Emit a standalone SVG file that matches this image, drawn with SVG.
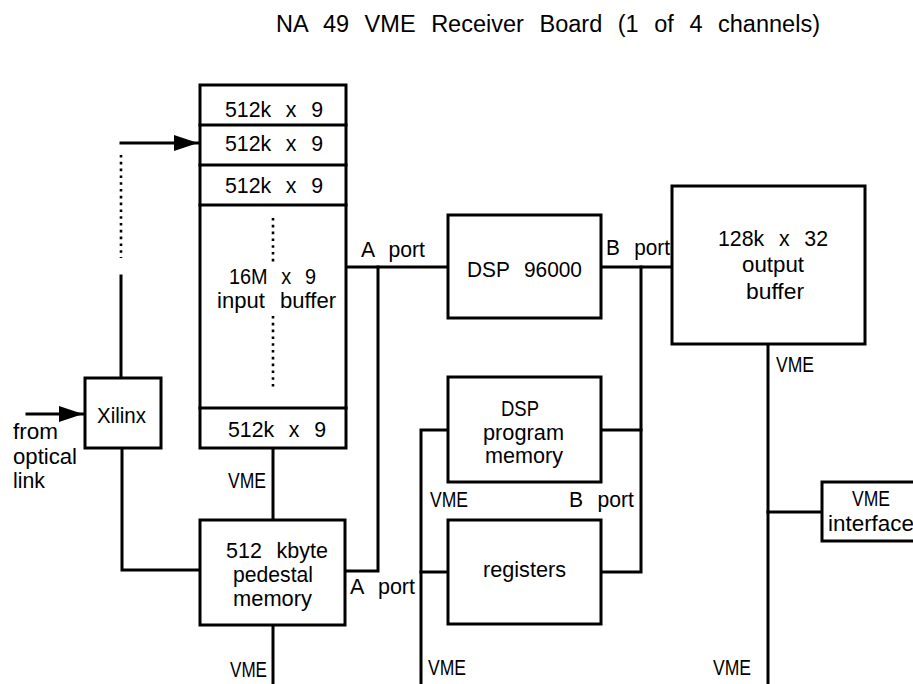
<svg xmlns="http://www.w3.org/2000/svg" width="913" height="684" viewBox="0 0 913 684">
<defs>
<style>
.box{fill:#fff;stroke:#000;stroke-width:3}
.ln{fill:none;stroke:#000;stroke-width:3;stroke-linejoin:miter;stroke-linecap:square}
.dot{fill:none;stroke:#000;stroke-width:2.6;stroke-dasharray:2.6 4.2}
text{font-family:"Liberation Sans",Arial,sans-serif;font-size:22px;fill:#000;word-spacing:9px}
.title{font-size:23.5px}
</style>
<marker id="ah" markerUnits="userSpaceOnUse" markerWidth="26" markerHeight="18" refX="24" refY="8" orient="auto">
<path d="M0,0 L24,8 L0,16 z" fill="#000"/>
</marker>
</defs>
<rect width="913" height="684" fill="#fff"/>

<text class="title" x="276" y="32" textLength="544" lengthAdjust="spacingAndGlyphs">NA 49 VME Receiver Board (1 of 4 channels)</text>

<g id="connectors">
<line class="dot" x1="121" y1="155" x2="121" y2="258"/>
<polyline class="ln" points="121,143 198,143" marker-end="url(#ah)"/>
<line class="ln" x1="121" y1="276" x2="121" y2="378"/>
<polyline class="ln" points="27,414 83,414" marker-end="url(#ah)"/>
<polyline class="ln" points="122,448 122,570 200,570"/>
<line class="ln" x1="273" y1="448" x2="273" y2="520"/>
<line class="ln" x1="273" y1="625" x2="273" y2="686"/>
<line class="ln" x1="346" y1="267" x2="448" y2="267"/>
<polyline class="ln" points="378,267 378,571 345,571"/>
<line class="ln" x1="601" y1="267" x2="672" y2="267"/>
<polyline class="ln" points="641,267 641,572 601,572"/>
<line class="ln" x1="601" y1="430" x2="641" y2="430"/>
<polyline class="ln" points="421,686 421,430 448,430"/>
<line class="ln" x1="421" y1="572" x2="448" y2="572"/>
<line class="ln" x1="768" y1="344" x2="768" y2="686"/>
<line class="ln" x1="768" y1="512" x2="822" y2="512"/>
<text x="361" y="257" textLength="64" lengthAdjust="spacingAndGlyphs">A port</text>
<text x="350" y="594" textLength="65" lengthAdjust="spacingAndGlyphs">A port</text>
<text x="606" y="255" textLength="64" lengthAdjust="spacingAndGlyphs">B port</text>
<text x="569" y="507" textLength="65" lengthAdjust="spacingAndGlyphs">B port</text>
<text x="228" y="488" textLength="38" lengthAdjust="spacingAndGlyphs">VME</text>
<text x="230" y="677" textLength="37" lengthAdjust="spacingAndGlyphs">VME</text>
<text x="430" y="507" textLength="38" lengthAdjust="spacingAndGlyphs">VME</text>
<text x="428" y="675" textLength="38" lengthAdjust="spacingAndGlyphs">VME</text>
<text x="713" y="675" textLength="38" lengthAdjust="spacingAndGlyphs">VME</text>
<text x="776" y="372" textLength="38" lengthAdjust="spacingAndGlyphs">VME</text>
<text x="13" y="439" textLength="45" lengthAdjust="spacingAndGlyphs">from</text>
<text x="13" y="464" textLength="64" lengthAdjust="spacingAndGlyphs">optical</text>
<text x="13" y="488" textLength="32" lengthAdjust="spacingAndGlyphs">link</text>
</g>

<g id="input-buffer">
<rect class="box" x="200" y="85" width="146" height="363"/>
<line class="ln" x1="200" y1="125" x2="346" y2="125"/>
<line class="ln" x1="200" y1="165" x2="346" y2="165"/>
<line class="ln" x1="200" y1="205" x2="346" y2="205"/>
<line class="ln" x1="200" y1="408" x2="346" y2="408"/>
<line class="dot" x1="273" y1="218" x2="273" y2="262"/>
<line class="dot" x1="273" y1="316" x2="273" y2="388"/>
<text x="225" y="117" textLength="98" lengthAdjust="spacingAndGlyphs">512k x 9</text>
<text x="225" y="151" textLength="98" lengthAdjust="spacingAndGlyphs">512k x 9</text>
<text x="225" y="193" textLength="98" lengthAdjust="spacingAndGlyphs">512k x 9</text>
<text x="229" y="284" textLength="87" lengthAdjust="spacingAndGlyphs">16M x 9</text>
<text x="217" y="308" textLength="119" lengthAdjust="spacingAndGlyphs">input buffer</text>
<text x="228" y="437" textLength="98" lengthAdjust="spacingAndGlyphs">512k x 9</text>
</g>

<g id="xilinx">
<rect class="box" x="85" y="378" width="76" height="70"/>
<text x="97" y="423" textLength="49" lengthAdjust="spacingAndGlyphs">Xilinx</text>
</g>

<g id="pedestal-memory">
<rect class="box" x="200" y="520" width="145" height="105"/>
<text x="226" y="558" textLength="102" lengthAdjust="spacingAndGlyphs">512 kbyte</text>
<text x="233" y="582" textLength="80" lengthAdjust="spacingAndGlyphs">pedestal</text>
<text x="233" y="606" textLength="79" lengthAdjust="spacingAndGlyphs">memory</text>
</g>

<g id="dsp">
<rect class="box" x="448" y="215" width="153" height="103"/>
<text x="467" y="277" textLength="115" lengthAdjust="spacingAndGlyphs">DSP 96000</text>
</g>

<g id="output-buffer">
<rect class="box" x="672" y="186" width="193" height="158"/>
<text x="718" y="246" textLength="110" lengthAdjust="spacingAndGlyphs">128k x 32</text>
<text x="742" y="272" textLength="62" lengthAdjust="spacingAndGlyphs">output</text>
<text x="746" y="299" textLength="58" lengthAdjust="spacingAndGlyphs">buffer</text>
</g>

<g id="dsp-program-memory">
<rect class="box" x="448" y="377" width="153" height="105"/>
<text x="501" y="416" textLength="38" lengthAdjust="spacingAndGlyphs">DSP</text>
<text x="483" y="440" textLength="81" lengthAdjust="spacingAndGlyphs">program</text>
<text x="485" y="463" textLength="78" lengthAdjust="spacingAndGlyphs">memory</text>
</g>

<g id="registers">
<rect class="box" x="448" y="520" width="153" height="104"/>
<text x="483" y="577" textLength="83" lengthAdjust="spacingAndGlyphs">registers</text>
</g>

<g id="vme-interface">
<rect class="box" x="822" y="482" width="120" height="59"/>
<text x="852" y="506" textLength="38" lengthAdjust="spacingAndGlyphs">VME</text>
<text x="828" y="531" textLength="86" lengthAdjust="spacingAndGlyphs">interface</text>
</g>
</svg>
